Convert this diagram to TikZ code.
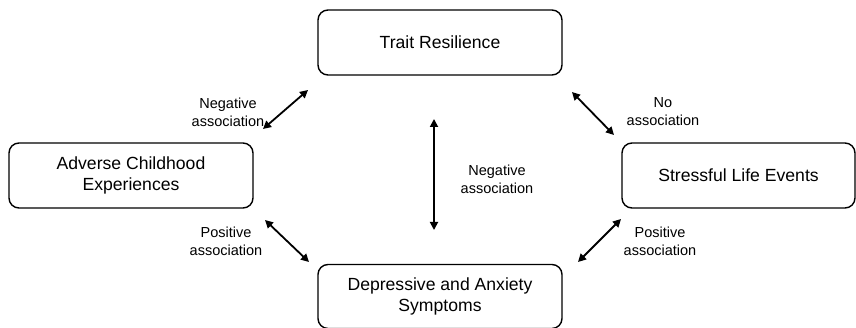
\documentclass[tikz,border=0pt]{standalone}
\usepackage{fontspec}
\setmainfont{Liberation Sans}
\usetikzlibrary{arrows.meta}
\begin{document}
\begin{tikzpicture}[x=1pt,y=-1pt,
  box/.style={draw,line width=1.4pt,rounded corners=10pt,align=center,font=\fontsize{17.6}{20.5}\selectfont,inner sep=0pt},
  lbl/.style={align=center,font=\fontsize{14.5}{18}\selectfont,inner sep=0pt},
  dbl/.style={line width=1.8pt,{Triangle[length=8pt,width=8pt]}-{Triangle[length=8pt,width=8pt]}}]
\useasboundingbox (0,0) rectangle (856,328);
\node[box,minimum width=244pt,minimum height=65pt] (tr) at (440,42.5) {Trait Resilience};
\node[box,minimum width=244pt,minimum height=65pt] (ace) at (131,175.5) {Adverse Childhood\\Experiences};
\node[box,minimum width=233pt,minimum height=65pt] (sle) at (738.5,175.5) {Stressful Life Events};
\node[box,minimum width=244pt,minimum height=64pt] (das) at (440,296.5) {Depressive and Anxiety\\Symptoms};
\coordinate (a1) at (263,129); \coordinate (a2) at (308,90);
\coordinate (b1) at (572,92); \coordinate (b2) at (614,135);
\coordinate (c1) at (434,119); \coordinate (c2) at (434,230);
\coordinate (d1) at (265,220); \coordinate (d2) at (309,262);
\coordinate (e1) at (621,219); \coordinate (e2) at (578,262);
\draw[dbl] (a1) -- (a2);
\draw[dbl] (b1) -- (b2);
\draw[dbl] (c1) -- (c2);
\draw[dbl] (d1) -- (d2);
\draw[dbl] (e1) -- (e2);
\node[lbl] (l1) at (228,112) {Negative\\association};
\node[lbl] (l2) at (663,112) {No\\association};
\node[lbl] (l3) at (497,179) {Negative\\association};
\node[lbl] (l4) at (226,241) {Positive\\association};
\node[lbl] (l5) at (660,241) {Positive\\association};
\end{tikzpicture}
\end{document}
